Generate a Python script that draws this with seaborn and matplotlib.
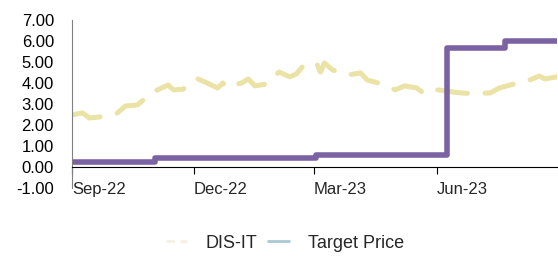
import pandas as pd
import seaborn as sns
import matplotlib.pyplot as plt
import matplotlib.dates as mdates
from matplotlib.lines import Line2D

# DIS-IT price
price_dates = ['2022-09-01', '2022-09-09', '2022-09-14', '2022-09-22', '2022-09-29',
               '2022-10-05', '2022-10-11', '2022-10-20', '2022-10-27', '2022-10-31',
               '2022-11-04', '2022-11-12', '2022-11-16', '2022-11-23', '2022-11-28',
               '2022-12-04', '2022-12-11', '2022-12-19', '2022-12-23', '2022-12-25',
               '2022-12-31', '2023-01-06', '2023-01-11', '2023-01-16', '2023-01-25',
               '2023-01-29', '2023-02-03', '2023-02-11', '2023-02-16', '2023-02-21',
               '2023-02-26', '2023-03-03', '2023-03-06', '2023-03-09', '2023-03-15',
               '2023-03-21', '2023-03-27', '2023-04-05', '2023-04-10', '2023-04-18',
               '2023-04-24', '2023-05-01', '2023-05-08', '2023-05-17', '2023-05-23',
               '2023-06-02', '2023-06-13', '2023-06-20', '2023-06-26', '2023-07-03',
               '2023-07-11', '2023-07-18', '2023-07-26', '2023-08-01', '2023-08-08',
               '2023-08-17', '2023-08-21', '2023-08-30']
price = [2.48, 2.57, 2.33, 2.38, 2.45,
         2.57, 2.90, 2.95, 3.33, 3.50,
         3.67, 3.90, 3.67, 3.70, 3.90,
         4.20, 4.00, 3.76, 4.00, 3.80,
         3.90, 4.00, 4.19, 3.86, 3.95,
         4.20, 4.52, 4.29, 4.43, 4.81,
         4.90, 4.95, 4.52, 4.95, 4.62,
         4.50, 4.38, 4.48, 4.14, 4.00,
         3.85, 3.67, 3.86, 3.76, 3.48,
         3.67, 3.57, 3.52, 3.50, 3.52,
         3.52, 3.76, 3.90, 4.00, 4.10,
         4.33, 4.19, 4.29]

# target price (step changes)
target_dates = ['2022-09-01', '2022-11-02', '2023-03-03', '2023-06-09', '2023-07-22', '2023-08-30']
target = [0.25, 0.42, 0.57, 5.68, 5.98, 5.98]

df_price = pd.DataFrame({'date': pd.to_datetime(price_dates), 'value': price})
df_target = pd.DataFrame({'date': pd.to_datetime(target_dates), 'value': target})

sns.set_style('white')
plt.rcParams['font.family'] = ['Liberation Sans', 'DejaVu Sans']

fig = plt.figure(figsize=(5.58, 2.56), dpi=100)
ax = fig.add_axes([0.129, 0.266, 0.869, 0.656])

sns.lineplot(data=df_price, x='date', y='value', ax=ax, color='#ebe2a6', linewidth=3.6,
             linestyle=(0, (6, 3.5)), dash_capstyle='round', legend=False)
sns.lineplot(data=df_target, x='date', y='value', ax=ax, color='#7b62a3', linewidth=4,
             drawstyle='steps-post', legend=False)

ax.set_xlim(pd.Timestamp('2022-09-01'), pd.Timestamp('2023-08-30'))
ax.set_ylim(-1, 7)
ax.set_yticks(range(-1, 8))
ax.set_yticklabels([f'{v:.2f}' for v in range(-1, 8)])
ax.set_xticks(pd.to_datetime(['2022-09-01', '2022-12-01', '2023-03-01', '2023-06-01']))
ax.xaxis.set_major_formatter(mdates.DateFormatter('%b-%y'))
ax.set_xlabel('')
ax.set_ylabel('')

ax.spines['top'].set_visible(False)
ax.spines['right'].set_visible(False)
ax.spines['left'].set_color('#808080')
ax.spines['bottom'].set_color('black')
ax.spines['bottom'].set_position(('data', 0))

ax.tick_params(axis='y', length=0, pad=13, labelsize=12, labelcolor='black')
ax.tick_params(axis='x', length=5, width=0.8, direction='out', pad=6, labelsize=12,
               color='black', bottom=True)
for lbl in ax.get_xticklabels():
    lbl.set_horizontalalignment('left')

handles = [Line2D([], [], color='#f4f1e2', linewidth=2, linestyle=(0, (3, 2))),
           Line2D([], [], color='#a9c8d3', linewidth=2)]
fig.legend(handles, ['DIS-IT', 'Target Price'], loc='center', bbox_to_anchor=(0.51, 0.05),
           ncol=2, frameon=False, fontsize=13, handlelength=1.2, handletextpad=1.0,
           columnspacing=0.6)

plt.savefig('out.png', dpi=100)
